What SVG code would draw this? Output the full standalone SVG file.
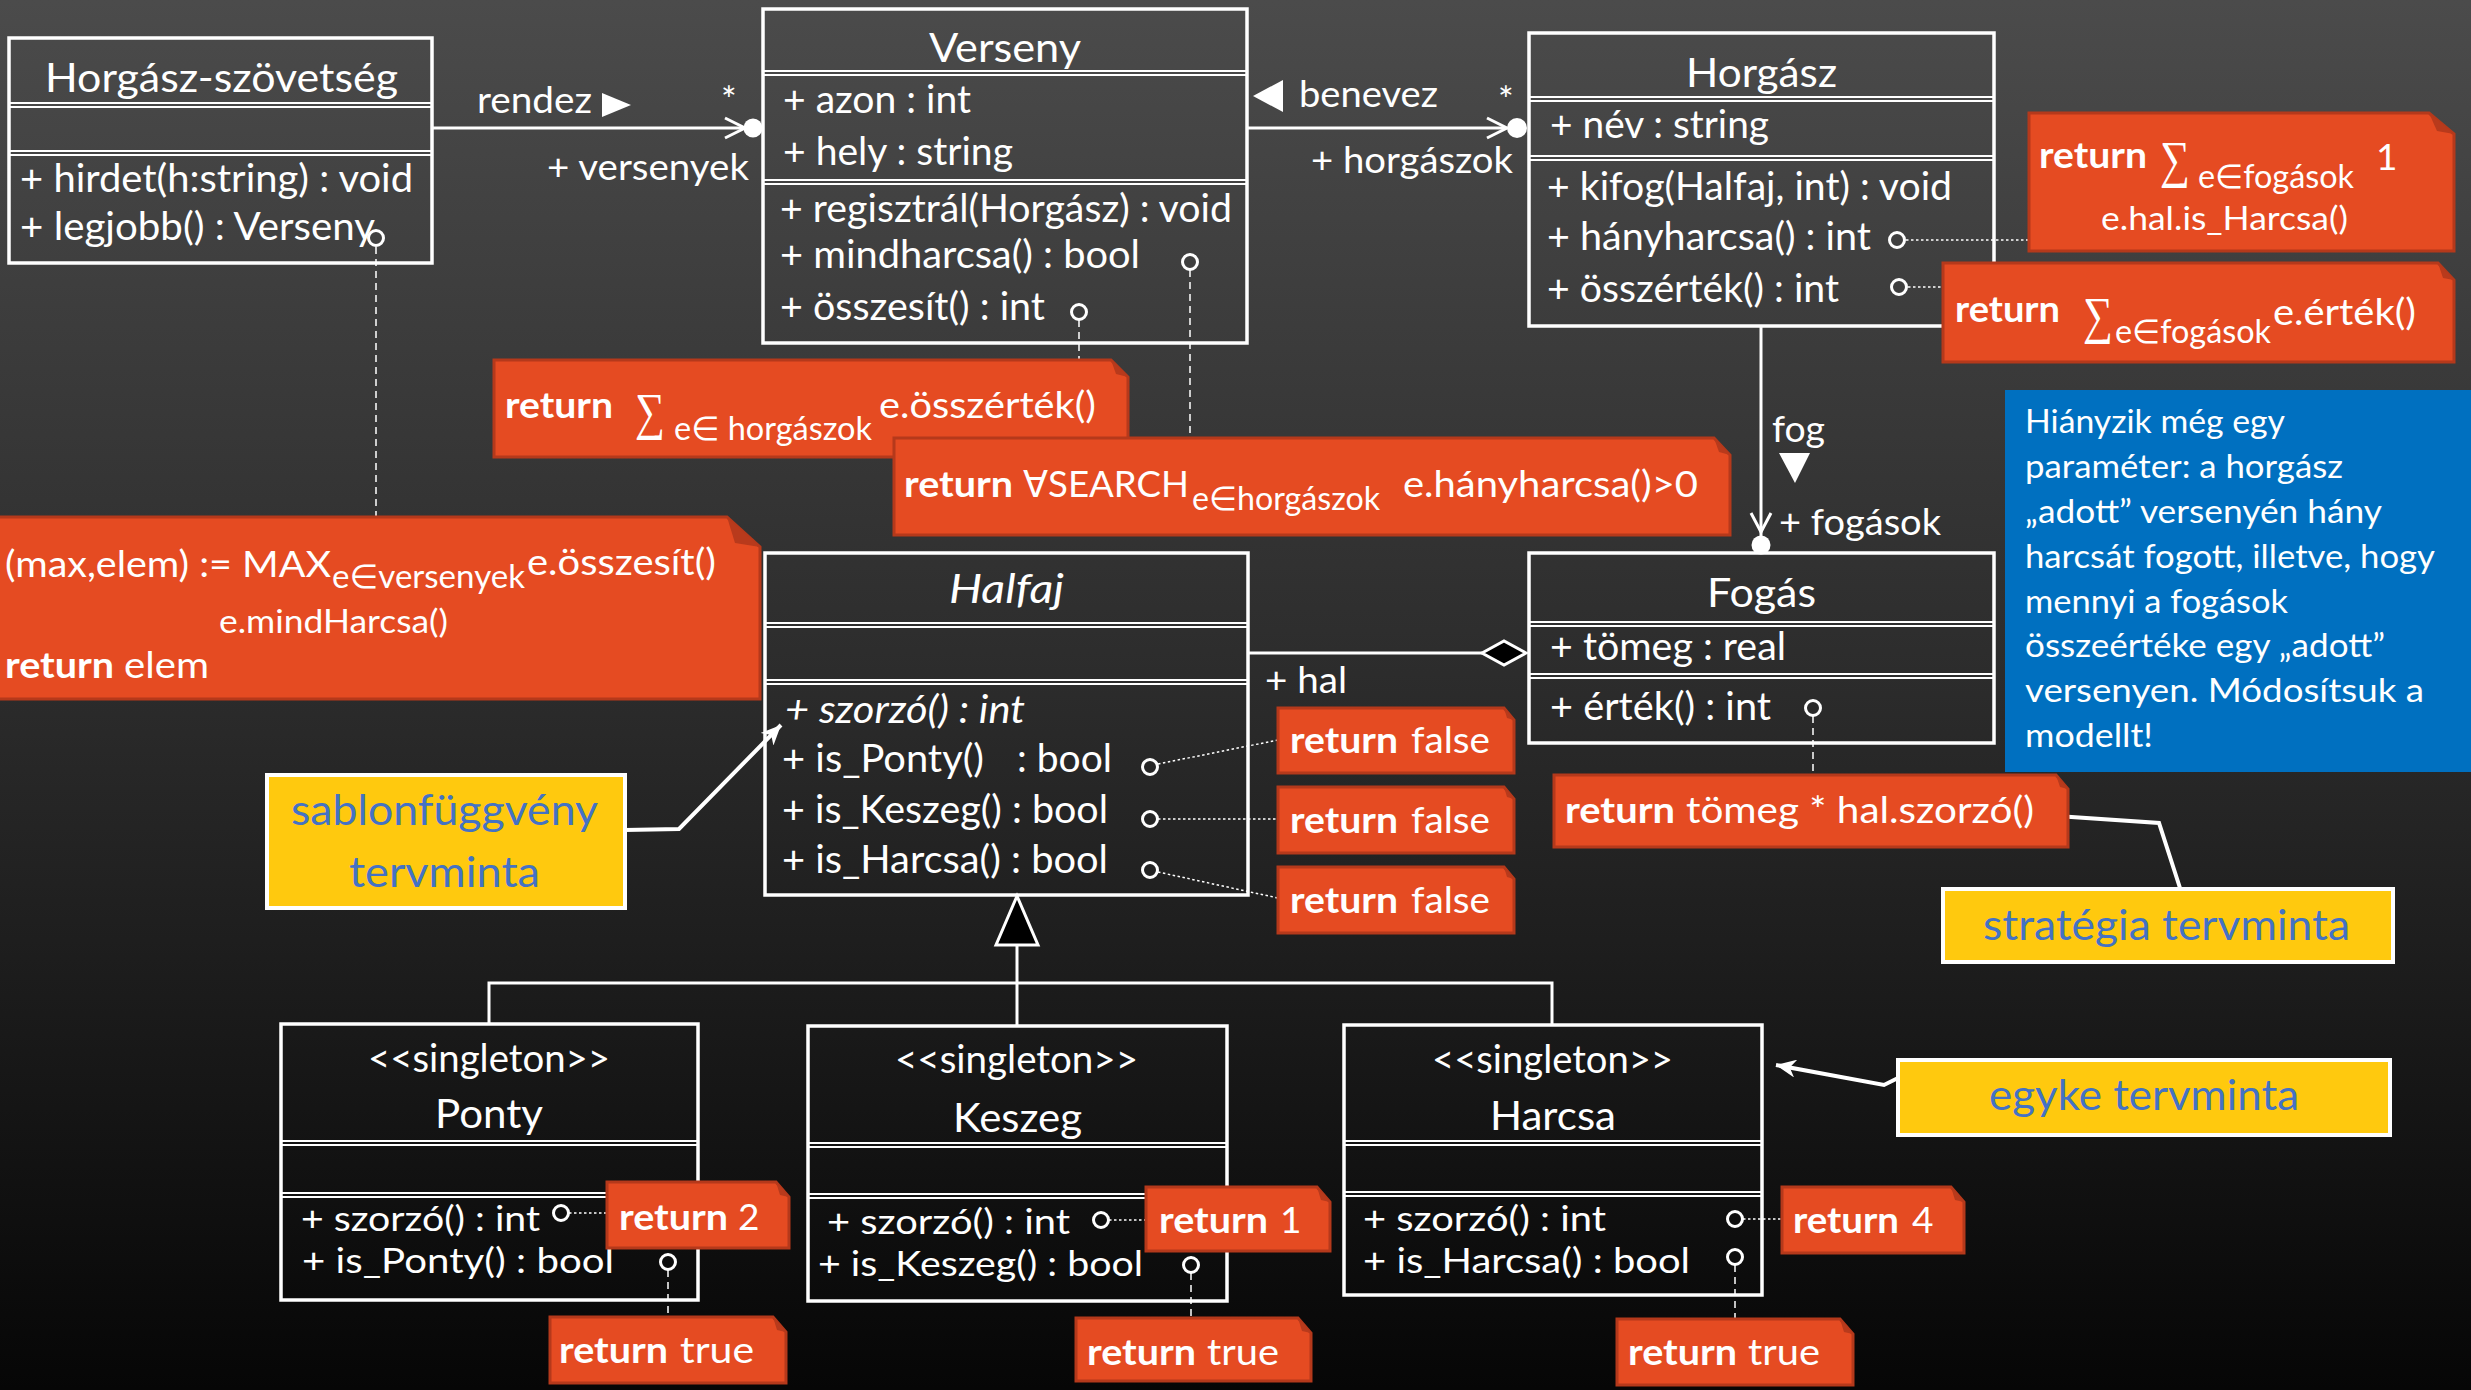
<svg xmlns="http://www.w3.org/2000/svg" width="2471" height="1390" viewBox="0 0 2471 1390">
  <defs>
    <linearGradient id="bg" x1="0" y1="0" x2="0" y2="1">
      <stop offset="0" stop-color="#4b4b4b"/>
      <stop offset="0.5" stop-color="#2b2b2b"/>
      <stop offset="1" stop-color="#060606"/>
    </linearGradient>
    <marker id="pointer" markerUnits="userSpaceOnUse" markerWidth="22" markerHeight="18" refX="20" refY="9" orient="auto">
      <path d="M0,0 L20,9 L0,18 L6,9 Z" fill="#fff"/>
    </marker>
    <style>
      .t { font-family: Lato, 'DejaVu Sans', sans-serif; fill: #fff; }
      .ti { font-size: 40px; }
      .m { font-size: 38px; }
      .m2 { font-size: 35px; }
      .lb { font-size: 37px; }
      .n { font-size: 37px; }
      .b { font-weight: bold; }
      .sub { font-size: 33px; }
      .sig { font-family: 'Liberation Serif', 'DejaVu Serif', serif; font-size: 52px; fill: #fff; }
      .it { font-style: italic; }
      .box { fill: none; stroke: #fff; stroke-width: 3.5; }
      .div { stroke: #fff; stroke-width: 2; }
      .op { fill: none; stroke: #fff; stroke-width: 3; }
      .line { fill: none; stroke: #fff; stroke-width: 3; }
      .dot { fill: #fff; }
      .note { fill: #e54b22; stroke: #b5391b; stroke-width: 3; }
      .fold { fill: #b83a1c; }
      .dash { stroke: #fff; stroke-width: 1.5; stroke-dasharray: 7 5; fill: none; }
      .dotted { stroke: #fff; stroke-width: 1.5; stroke-dasharray: 2.5 2.5; fill: none; }
      .pat { fill: #ffc90e; stroke: #fff; stroke-width: 4; }
      .pt { font-family: Lato, 'DejaVu Sans', sans-serif; font-size: 42px; fill: #4472c4; }
      .callout { fill: none; stroke: #fff; stroke-width: 4; }
      .info { fill: #0070c0; }
      .it2 { font-family: Lato, 'DejaVu Sans', sans-serif; font-size: 33px; fill: #fff; }
    </style>
  </defs>

  <rect width="2471" height="1390" fill="url(#bg)"/>

  <!-- connectors -->
  <g id="connectors">
    <!-- rendez: Horgász-szövetség -> Verseny -->
    <line class="line" x1="432" y1="128" x2="744" y2="128"/>
    <polyline class="op" points="725,118 745,128 725,138"/>
    <circle class="dot" cx="753" cy="128" r="9.5"/>
    <text class="t lb" x="477" y="113" textLength="115" lengthAdjust="spacingAndGlyphs">rendez</text>
    <polygon class="dot" points="602,93 631,105 602,117"/>
    <text class="t lb" x="721" y="113">*</text>
    <text class="t lb" x="547" y="180" textLength="202" lengthAdjust="spacingAndGlyphs">+ versenyek</text>

    <!-- benevez: Verseny -> Horgász -->
    <line class="line" x1="1247" y1="128" x2="1506" y2="128"/>
    <polyline class="op" points="1487,118 1507,128 1487,138"/>
    <circle class="dot" cx="1517" cy="128" r="10"/>
    <polygon class="dot" points="1283,80 1253,96 1283,112"/>
    <text class="t lb" x="1299" y="107" textLength="139" lengthAdjust="spacingAndGlyphs">benevez</text>
    <text class="t lb" x="1498" y="113">*</text>
    <text class="t lb" x="1311" y="173" textLength="202" lengthAdjust="spacingAndGlyphs">+ horgászok</text>

    <!-- fog: Horgász -> Fogás -->
    <line class="line" x1="1761" y1="326" x2="1761" y2="536"/>
    <polyline class="op" points="1751,513 1761,532 1771,513"/>
    <circle class="dot" cx="1761" cy="545" r="9.5"/>
    <text class="t lb" x="1772" y="442" textLength="53" lengthAdjust="spacingAndGlyphs">fog</text>
    <polygon class="dot" points="1779,453 1810,453 1795,483"/>
    <text class="t lb" x="1779" y="535" textLength="162" lengthAdjust="spacingAndGlyphs">+ fogások</text>

    <!-- hal: Fogás aggregates Halfaj -->
    <line class="line" x1="1248" y1="653" x2="1482" y2="653"/>
    <polygon points="1482,653 1504,641 1526,653 1504,665" fill="#000" stroke="#fff" stroke-width="3"/>
    <text class="t lb" x="1265" y="693" textLength="82" lengthAdjust="spacingAndGlyphs">+ hal</text>

    <!-- generalization: Ponty, Keszeg, Harcsa -> Halfaj -->
    <polyline class="line" points="489,1024 489,983 1552,983 1552,1025"/>
    <line class="line" x1="1017" y1="945" x2="1017" y2="1026"/>
    <polygon points="1017,896 996,945 1038,945" fill="#000" stroke="#fff" stroke-width="3"/>

    <!-- operation-to-note links -->
    <line class="dash" x1="376" y1="247" x2="376" y2="517"/>
    <line class="dash" x1="1079" y1="320" x2="1079" y2="360"/>
    <line class="dash" x1="1190" y1="270" x2="1190" y2="438"/>
    <line class="dotted" x1="1906" y1="240" x2="2029" y2="240"/>
    <line class="dotted" x1="1908" y1="287" x2="1943" y2="287"/>
    <line class="dash" x1="1813" y1="716" x2="1813" y2="775"/>
    <line class="dotted" x1="1158" y1="764" x2="1278" y2="740"/>
    <line class="dotted" x1="1158" y1="819" x2="1278" y2="819"/>
    <line class="dotted" x1="1158" y1="872" x2="1278" y2="898"/>
    <line class="dotted" x1="569" y1="1213" x2="607" y2="1213"/>
    <line class="dash" x1="668" y1="1270" x2="668" y2="1317"/>
    <line class="dotted" x1="1109" y1="1220" x2="1146" y2="1220"/>
    <line class="dash" x1="1191" y1="1273" x2="1191" y2="1318"/>
    <line class="dotted" x1="1743" y1="1219" x2="1782" y2="1219"/>
    <line class="dash" x1="1735" y1="1265" x2="1735" y2="1319"/>

    <!-- pattern callouts -->
    <polyline class="callout" points="625,830 679,829 781,725" marker-end="url(#pointer)"/>
    <polyline class="callout" points="2180,888 2159,823 2042,815" marker-end="url(#pointer)"/>
    <polyline class="callout" points="1898,1078 1884,1085 1776,1065" marker-end="url(#pointer)"/>
  </g>

  <!-- classes -->
  <g id="horgasz-szovetseg">
    <rect class="box" x="9" y="38" width="423" height="225"/>
    <line class="div" x1="9" y1="103" x2="432" y2="103"/>
    <line class="div" x1="9" y1="107" x2="432" y2="107"/>
    <line class="div" x1="9" y1="151" x2="432" y2="151"/>
    <line class="div" x1="9" y1="155" x2="432" y2="155"/>
    <text class="t ti" x="45" y="92" textLength="353" lengthAdjust="spacingAndGlyphs">Horgász-szövetség</text>
    <text class="t m" x="20" y="192" textLength="393" lengthAdjust="spacingAndGlyphs">+ hirdet(h:string) : void</text>
    <text class="t m" x="20" y="240" textLength="355" lengthAdjust="spacingAndGlyphs">+ legjobb() : Verseny</text>
    <circle class="op" cx="376" cy="238" r="7.5"/>
  </g>

  <g id="verseny">
    <rect class="box" x="763" y="9" width="484" height="334"/>
    <line class="div" x1="763" y1="71" x2="1247" y2="71"/>
    <line class="div" x1="763" y1="75" x2="1247" y2="75"/>
    <line class="div" x1="763" y1="180" x2="1247" y2="180"/>
    <line class="div" x1="763" y1="184" x2="1247" y2="184"/>
    <text class="t ti" x="929" y="62" textLength="152" lengthAdjust="spacingAndGlyphs">Verseny</text>
    <text class="t m" x="783" y="113" textLength="188" lengthAdjust="spacingAndGlyphs">+ azon : int</text>
    <text class="t m" x="783" y="165" textLength="230" lengthAdjust="spacingAndGlyphs">+ hely : string</text>
    <text class="t m" x="780" y="222" textLength="452" lengthAdjust="spacingAndGlyphs">+ regisztrál(Horgász) : void</text>
    <text class="t m" x="780" y="268" textLength="360" lengthAdjust="spacingAndGlyphs">+ mindharcsa() : bool</text>
    <text class="t m" x="780" y="320" textLength="265" lengthAdjust="spacingAndGlyphs">+ összesít() : int</text>
    <circle class="op" cx="1190" cy="262" r="7.5"/>
    <circle class="op" cx="1079" cy="312" r="7.5"/>
  </g>

  <g id="horgasz">
    <rect class="box" x="1529" y="33" width="465" height="293"/>
    <line class="div" x1="1529" y1="97" x2="1994" y2="97"/>
    <line class="div" x1="1529" y1="101" x2="1994" y2="101"/>
    <line class="div" x1="1529" y1="156" x2="1994" y2="156"/>
    <line class="div" x1="1529" y1="160" x2="1994" y2="160"/>
    <text class="t ti" x="1686" y="87" textLength="151" lengthAdjust="spacingAndGlyphs">Horgász</text>
    <text class="t m" x="1550" y="138" textLength="219" lengthAdjust="spacingAndGlyphs">+ név : string</text>
    <text class="t m" x="1547" y="200" textLength="405" lengthAdjust="spacingAndGlyphs">+ kifog(Halfaj, int) : void</text>
    <text class="t m" x="1547" y="250" textLength="324" lengthAdjust="spacingAndGlyphs">+ hányharcsa() : int</text>
    <text class="t m" x="1547" y="302" textLength="292" lengthAdjust="spacingAndGlyphs">+ összérték() : int</text>
    <circle class="op" cx="1897" cy="240" r="7.5"/>
    <circle class="op" cx="1899" cy="287" r="7.5"/>
  </g>

  <g id="halfaj">
    <rect class="box" x="765" y="553" width="483" height="342"/>
    <line class="div" x1="765" y1="623" x2="1248" y2="623"/>
    <line class="div" x1="765" y1="627" x2="1248" y2="627"/>
    <line class="div" x1="765" y1="680" x2="1248" y2="680"/>
    <line class="div" x1="765" y1="684" x2="1248" y2="684"/>
    <text class="t ti it" x="949" y="603" textLength="115" lengthAdjust="spacingAndGlyphs">Halfaj</text>
    <text class="t m it" x="785" y="723" textLength="240" lengthAdjust="spacingAndGlyphs">+ szorzó() : int</text>
    <text class="t m" x="782" y="772" textLength="202" lengthAdjust="spacingAndGlyphs">+ is_Ponty()</text>
    <text class="t m" x="1017" y="772" textLength="95" lengthAdjust="spacingAndGlyphs">: bool</text>
    <text class="t m" x="782" y="823" textLength="326" lengthAdjust="spacingAndGlyphs">+ is_Keszeg() : bool</text>
    <text class="t m" x="782" y="873" textLength="326" lengthAdjust="spacingAndGlyphs">+ is_Harcsa() : bool</text>
    <circle class="op" cx="1150" cy="767" r="7.5"/>
    <circle class="op" cx="1150" cy="819" r="7.5"/>
    <circle class="op" cx="1150" cy="870" r="7.5"/>
  </g>

  <g id="fogas">
    <rect class="box" x="1529" y="553" width="465" height="190"/>
    <line class="div" x1="1529" y1="622" x2="1994" y2="622"/>
    <line class="div" x1="1529" y1="626" x2="1994" y2="626"/>
    <line class="div" x1="1529" y1="674" x2="1994" y2="674"/>
    <line class="div" x1="1529" y1="678" x2="1994" y2="678"/>
    <text class="t ti" x="1707" y="607" textLength="109" lengthAdjust="spacingAndGlyphs">Fogás</text>
    <text class="t m" x="1550" y="660" textLength="236" lengthAdjust="spacingAndGlyphs">+ tömeg : real</text>
    <text class="t m" x="1550" y="720" textLength="221" lengthAdjust="spacingAndGlyphs">+ érték() : int</text>
    <circle class="op" cx="1813" cy="708" r="7.5"/>
  </g>

  <g id="ponty">
    <rect class="box" x="281" y="1024" width="417" height="276"/>
    <line class="div" x1="281" y1="1141" x2="698" y2="1141"/>
    <line class="div" x1="281" y1="1145" x2="698" y2="1145"/>
    <line class="div" x1="281" y1="1193" x2="698" y2="1193"/>
    <line class="div" x1="281" y1="1197" x2="698" y2="1197"/>
    <text class="t m" x="368" y="1072" textLength="242" lengthAdjust="spacingAndGlyphs">&lt;&lt;singleton&gt;&gt;</text>
    <text class="t ti" x="435" y="1128" textLength="108" lengthAdjust="spacingAndGlyphs">Ponty</text>
    <text class="t m2" x="301" y="1231" textLength="239" lengthAdjust="spacingAndGlyphs">+ szorzó() : int</text>
    <text class="t m2" x="302" y="1273" textLength="312" lengthAdjust="spacingAndGlyphs">+ is_Ponty() : bool</text>
    <circle class="op" cx="561" cy="1213" r="7.5"/>
    <circle class="op" cx="668" cy="1262" r="7.5"/>
  </g>

  <g id="keszeg">
    <rect class="box" x="808" y="1026" width="419" height="275"/>
    <line class="div" x1="808" y1="1143" x2="1227" y2="1143"/>
    <line class="div" x1="808" y1="1147" x2="1227" y2="1147"/>
    <line class="div" x1="808" y1="1194" x2="1227" y2="1194"/>
    <line class="div" x1="808" y1="1198" x2="1227" y2="1198"/>
    <text class="t m" x="895" y="1073" textLength="243" lengthAdjust="spacingAndGlyphs">&lt;&lt;singleton&gt;&gt;</text>
    <text class="t ti" x="953" y="1132" textLength="129" lengthAdjust="spacingAndGlyphs">Keszeg</text>
    <text class="t m2" x="827" y="1234" textLength="243" lengthAdjust="spacingAndGlyphs">+ szorzó() : int</text>
    <text class="t m2" x="818" y="1276" textLength="325" lengthAdjust="spacingAndGlyphs">+ is_Keszeg() : bool</text>
    <circle class="op" cx="1101" cy="1220" r="7.5"/>
    <circle class="op" cx="1191" cy="1265" r="7.5"/>
  </g>

  <g id="harcsa">
    <rect class="box" x="1344" y="1025" width="418" height="270"/>
    <line class="div" x1="1344" y1="1141" x2="1762" y2="1141"/>
    <line class="div" x1="1344" y1="1145" x2="1762" y2="1145"/>
    <line class="div" x1="1344" y1="1192" x2="1762" y2="1192"/>
    <line class="div" x1="1344" y1="1196" x2="1762" y2="1196"/>
    <text class="t m" x="1432" y="1073" textLength="241" lengthAdjust="spacingAndGlyphs">&lt;&lt;singleton&gt;&gt;</text>
    <text class="t ti" x="1490" y="1130" textLength="126" lengthAdjust="spacingAndGlyphs">Harcsa</text>
    <text class="t m2" x="1363" y="1231" textLength="243" lengthAdjust="spacingAndGlyphs">+ szorzó() : int</text>
    <text class="t m2" x="1363" y="1273" textLength="327" lengthAdjust="spacingAndGlyphs">+ is_Harcsa() : bool</text>
    <circle class="op" cx="1735" cy="1219" r="7.5"/>
    <circle class="op" cx="1735" cy="1257" r="7.5"/>
  </g>

  <!-- notes -->
  <g id="note-hanyharcsa">
    <path class="note" d="M2029,113 H2429 L2454,134 V251 H2029 Z"/>
    <path class="fold" d="M2429,113 L2437,131 L2454,134 Z"/>
    <text class="t n b" x="2039" y="168" textLength="108" lengthAdjust="spacingAndGlyphs">return</text>
    <text class="sig" x="2160" y="177" textLength="30" lengthAdjust="spacingAndGlyphs">∑</text>
    <text class="t sub" x="2198" y="188" textLength="156" lengthAdjust="spacingAndGlyphs">e∈fogások</text>
    <text class="t n" x="2376" y="170">1</text>
    <text class="t sub" x="2101" y="230" textLength="247" lengthAdjust="spacingAndGlyphs">e.hal.is_Harcsa()</text>
  </g>

  <g id="note-osszertek">
    <path class="note" d="M1943,263 H2438 L2454,280 V362 H1943 Z"/>
    <path class="fold" d="M2438,263 L2443,278 L2454,280 Z"/>
    <text class="t n b" x="1955" y="322" textLength="105" lengthAdjust="spacingAndGlyphs">return</text>
    <text class="sig" x="2083" y="333" textLength="30" lengthAdjust="spacingAndGlyphs">∑</text>
    <text class="t sub" x="2115" y="343" textLength="156" lengthAdjust="spacingAndGlyphs">e∈fogások</text>
    <text class="t n" x="2273" y="325" textLength="143" lengthAdjust="spacingAndGlyphs">e.érték()</text>
  </g>

  <g id="note-osszesit">
    <path class="note" d="M494,360 H1111 L1128,377 V457 H494 Z"/>
    <path class="fold" d="M1111,360 L1116,374 L1128,377 Z"/>
    <text class="t n b" x="505" y="418" textLength="108" lengthAdjust="spacingAndGlyphs">return</text>
    <text class="sig" x="635" y="429" textLength="30" lengthAdjust="spacingAndGlyphs">∑</text>
    <text class="t sub" x="674" y="440" textLength="198" lengthAdjust="spacingAndGlyphs">e∈ horgászok</text>
    <text class="t n" x="879" y="418" textLength="217" lengthAdjust="spacingAndGlyphs">e.összérték()</text>
  </g>

  <g id="note-mindharcsa">
    <path class="note" d="M894,438 H1714 L1730,455 V535 H894 Z"/>
    <path class="fold" d="M1714,438 L1719,452 L1730,455 Z"/>
    <text class="t n b" x="904" y="497" textLength="109" lengthAdjust="spacingAndGlyphs">return</text>
    <text class="t n" x="1023" y="497" textLength="166" lengthAdjust="spacingAndGlyphs">∀SEARCH</text>
    <text class="t sub" x="1192" y="510" textLength="188" lengthAdjust="spacingAndGlyphs">e∈horgászok</text>
    <text class="t n" x="1403" y="497" textLength="295" lengthAdjust="spacingAndGlyphs">e.hányharcsa()&gt;0</text>
  </g>

  <g id="note-legjobb">
    <path class="note" d="M-4,517 H727 L760,547 V699 H-4 Z"/>
    <path class="fold" d="M727,517 L735,543 L760,547 Z"/>
    <text class="t n" x="5" y="577" textLength="326" lengthAdjust="spacingAndGlyphs">(max,elem) := MAX</text>
    <text class="t sub" x="332" y="588" textLength="193" lengthAdjust="spacingAndGlyphs">e∈versenyek</text>
    <text class="t n" x="527" y="575" textLength="189" lengthAdjust="spacingAndGlyphs">e.összesít()</text>
    <text class="t sub" x="219" y="633" textLength="229" lengthAdjust="spacingAndGlyphs">e.mindHarcsa()</text>
    <text class="t n b" x="5" y="678" textLength="109" lengthAdjust="spacingAndGlyphs">return</text>
    <text class="t n" x="124" y="678" textLength="85" lengthAdjust="spacingAndGlyphs">elem</text>
  </g>

  <g id="note-is-ponty">
    <path class="note" d="M1278,708 H1504 L1514,720 V773 H1278 Z"/>
    <path class="fold" d="M1504,708 L1507,718 L1514,720 Z"/>
    <text class="t n b" x="1290" y="753" textLength="108" lengthAdjust="spacingAndGlyphs">return</text>
    <text class="t n" x="1411" y="753" textLength="79" lengthAdjust="spacingAndGlyphs">false</text>
  </g>
  <g id="note-is-keszeg">
    <path class="note" d="M1278,787 H1504 L1514,799 V853 H1278 Z"/>
    <path class="fold" d="M1504,787 L1507,797 L1514,799 Z"/>
    <text class="t n b" x="1290" y="833" textLength="108" lengthAdjust="spacingAndGlyphs">return</text>
    <text class="t n" x="1411" y="833" textLength="79" lengthAdjust="spacingAndGlyphs">false</text>
  </g>
  <g id="note-is-harcsa">
    <path class="note" d="M1278,867 H1504 L1514,879 V933 H1278 Z"/>
    <path class="fold" d="M1504,867 L1507,877 L1514,879 Z"/>
    <text class="t n b" x="1290" y="913" textLength="108" lengthAdjust="spacingAndGlyphs">return</text>
    <text class="t n" x="1411" y="913" textLength="79" lengthAdjust="spacingAndGlyphs">false</text>
  </g>

  <g id="note-ertek">
    <path class="note" d="M1554,775 H2056 L2068,789 V847 H1554 Z"/>
    <path class="fold" d="M2056,775 L2060,787 L2068,789 Z"/>
    <text class="t n b" x="1565" y="823" textLength="110" lengthAdjust="spacingAndGlyphs">return</text>
    <text class="t n" x="1686" y="823" textLength="348" lengthAdjust="spacingAndGlyphs">tömeg * hal.szorzó()</text>
  </g>

  <g id="note-ponty-szorzo">
    <path class="note" d="M607,1182 H776 L789,1197 V1248 H607 Z"/>
    <path class="fold" d="M776,1182 L780,1195 L789,1197 Z"/>
    <text class="t n b" x="619" y="1230" textLength="109" lengthAdjust="spacingAndGlyphs">return</text>
    <text class="t n" x="738" y="1230">2</text>
  </g>
  <g id="note-ponty-is">
    <path class="note" d="M550,1317 H773 L786,1332 V1383 H550 Z"/>
    <path class="fold" d="M773,1317 L777,1330 L786,1332 Z"/>
    <text class="t n b" x="559" y="1363" textLength="109" lengthAdjust="spacingAndGlyphs">return</text>
    <text class="t n" x="680" y="1363" textLength="74" lengthAdjust="spacingAndGlyphs">true</text>
  </g>
  <g id="note-keszeg-szorzo">
    <path class="note" d="M1146,1187 H1317 L1330,1202 V1251 H1146 Z"/>
    <path class="fold" d="M1317,1187 L1321,1200 L1330,1202 Z"/>
    <text class="t n b" x="1159" y="1233" textLength="109" lengthAdjust="spacingAndGlyphs">return</text>
    <text class="t n" x="1280" y="1233">1</text>
  </g>
  <g id="note-keszeg-is">
    <path class="note" d="M1076,1318 H1298 L1311,1333 V1381 H1076 Z"/>
    <path class="fold" d="M1298,1318 L1302,1331 L1311,1333 Z"/>
    <text class="t n b" x="1087" y="1365" textLength="109" lengthAdjust="spacingAndGlyphs">return</text>
    <text class="t n" x="1207" y="1365" textLength="72" lengthAdjust="spacingAndGlyphs">true</text>
  </g>
  <g id="note-harcsa-szorzo">
    <path class="note" d="M1782,1187 H1951 L1964,1202 V1253 H1782 Z"/>
    <path class="fold" d="M1951,1187 L1955,1200 L1964,1202 Z"/>
    <text class="t n b" x="1793" y="1233" textLength="106" lengthAdjust="spacingAndGlyphs">return</text>
    <text class="t n" x="1912" y="1233">4</text>
  </g>
  <g id="note-harcsa-is">
    <path class="note" d="M1617,1319 H1840 L1853,1334 V1385 H1617 Z"/>
    <path class="fold" d="M1840,1319 L1844,1332 L1853,1334 Z"/>
    <text class="t n b" x="1628" y="1365" textLength="109" lengthAdjust="spacingAndGlyphs">return</text>
    <text class="t n" x="1748" y="1365" textLength="72" lengthAdjust="spacingAndGlyphs">true</text>
  </g>

  <!-- design pattern labels -->
  <g id="sablonfuggveny">
    <rect class="pat" x="267" y="775" width="358" height="133"/>
    <text class="pt" x="291" y="825" textLength="307" lengthAdjust="spacingAndGlyphs">sablonfüggvény</text>
    <text class="pt" x="349" y="887" textLength="191" lengthAdjust="spacingAndGlyphs">tervminta</text>
  </g>
  <g id="strategia">
    <rect class="pat" x="1943" y="889" width="450" height="73"/>
    <text class="pt" x="1983" y="940" textLength="367" lengthAdjust="spacingAndGlyphs">stratégia tervminta</text>
  </g>
  <g id="egyke">
    <rect class="pat" x="1898" y="1060" width="492" height="75"/>
    <text class="pt" x="1989" y="1110" textLength="310" lengthAdjust="spacingAndGlyphs">egyke tervminta</text>
  </g>

  <!-- task remark -->
  <g id="feladat">
    <rect class="info" x="2005" y="390" width="466" height="382"/>
    <text class="it2" x="2025" y="433" textLength="260" lengthAdjust="spacingAndGlyphs">Hiányzik még egy</text>
    <text class="it2" x="2025" y="478" textLength="318" lengthAdjust="spacingAndGlyphs">paraméter: a horgász</text>
    <text class="it2" x="2025" y="523" textLength="357" lengthAdjust="spacingAndGlyphs">„adott” versenyén hány</text>
    <text class="it2" x="2025" y="568" textLength="410" lengthAdjust="spacingAndGlyphs">harcsát fogott, illetve, hogy</text>
    <text class="it2" x="2025" y="613" textLength="263" lengthAdjust="spacingAndGlyphs">mennyi a fogások</text>
    <text class="it2" x="2025" y="657" textLength="360" lengthAdjust="spacingAndGlyphs">összeértéke egy „adott”</text>
    <text class="it2" x="2025" y="702" textLength="399" lengthAdjust="spacingAndGlyphs">versenyen. Módosítsuk a</text>
    <text class="it2" x="2025" y="747" textLength="128" lengthAdjust="spacingAndGlyphs">modellt!</text>
  </g>
</svg>
